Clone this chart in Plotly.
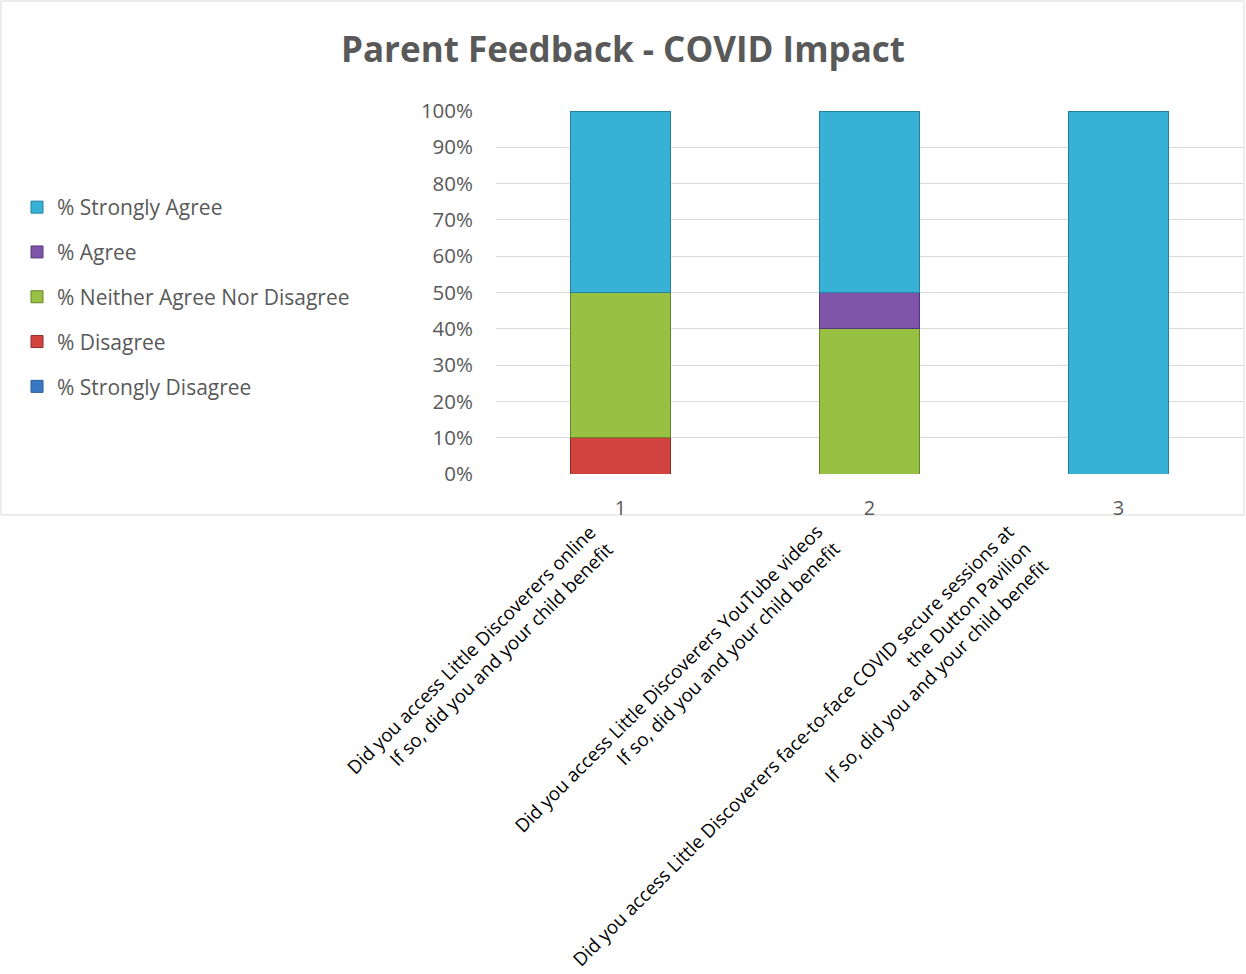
import plotly.graph_objects as go

categories = ["1", "2", "3"]
question_labels = [
    "Did you access Little Discoverers online<br>If so, did you and your child benefit",
    "Did you access Little Discoverers YouTube videos<br>If so, did you and your child benefit",
    "Did you access Little Discoverers face-to-face COVID secure sessions at<br>the Dutton Pavilion<br>If so, did you and your child benefit",
]
series_names = ["% Strongly Disagree", "% Disagree", "% Neither Agree Nor Disagree", "% Agree", "% Strongly Agree"]
strongly_disagree = [0, 0, 0]
disagree = [10, 0, 0]
neither = [40, 40, 0]
agree = [0, 10, 0]
strongly_agree = [50, 50, 100]
y_ticks = list(range(0, 101, 10))
y_tick_labels = [f"{v}%" for v in y_ticks]

series_values = [strongly_disagree, disagree, neither, agree, strongly_agree]
fill_colors = ["#3a78c4", "#d2423f", "#98c043", "#7e55a8", "#37b1d5"]
line_colors = ["#275a94", "#8e2a28", "#668529", "#55397a", "#26819d"]

W, H = 1246, 974
L, R, T, B = 496, 1243, 111, 474
pw, ph = R - L, B - T

def px_x(p):
    return (p - L) / pw

def px_y(p):
    return (B - p) / ph

FONT = "Open Sans"

fig = go.Figure()
n = len(series_names)
for i, (name, vals) in enumerate(zip(series_names, series_values)):
    fig.add_trace(go.Bar(
        x=categories,
        y=[v if v > 0 else None for v in vals],
        name=name,
        width=0.4,
        marker=dict(color=fill_colors[i], line=dict(color=line_colors[i], width=1)),
        legendgroup=name,
        legendrank=n - i,
    ))

fig.update_layout(
    width=W, height=H,
    margin=dict(l=L, r=W - R, t=T, b=H - B, autoexpand=False),
    barmode="stack",
    paper_bgcolor="white",
    plot_bgcolor="white",
    font=dict(family=FONT, color="#595959", size=18),
    title=dict(
        text="<b>Parent Feedback - COVID Impact</b>",
        x=0.5, xref="container", xanchor="center",
        y=1 - 50 / H, yref="container", yanchor="middle",
        font=dict(family=FONT, size=35, color="#595959"),
    ),
    showlegend=True,
    legend=dict(
        x=px_x(17), xanchor="left",
        y=px_y(187), yanchor="top",
        traceorder="grouped",
        tracegroupgap=14.5,
        font=dict(family=FONT, size=21, color="#595959"),
        bgcolor="rgba(0,0,0,0)",
    ),
    xaxis=dict(
        type="category",
        range=[-0.5, 2.5],
        showgrid=False, zeroline=False, showline=False,
        ticks="",
        ticklabelstandoff=20,
        tickfont=dict(family=FONT, size=20, color="#595959"),
    ),
    yaxis=dict(
        range=[0, 100],
        tickvals=y_ticks,
        ticktext=y_tick_labels,
        showgrid=True, gridcolor="#d9d9d9", gridwidth=1,
        zeroline=False, showline=False,
        ticks="",
        ticklabelstandoff=22,
        tickfont=dict(family=FONT, size=20.5, color="#595959"),
    ),
)

# chart frame
fig.add_shape(type="rect", xref="paper", yref="paper",
              x0=px_x(1), x1=px_x(1244), y0=px_y(515), y1=px_y(1),
              line=dict(color="#d9d9d9", width=1), fillcolor="rgba(0,0,0,0)", layer="below")

x_shifts = [0, -22, -62]
for idx, (lab, xs) in enumerate(zip(question_labels, x_shifts)):
    fig.add_annotation(
        x=idx, xref="x", y=px_y(516), yref="paper",
        text=lab, showarrow=False, textangle=-45,
        xanchor="right", yanchor="top", align="right",
        xshift=xs,
        font=dict(family=FONT, size=18.7, color="#000000"),
    )

fig.write_html("out.html", config={"displayModeBar": False},
               post_script="document.body.style.margin='0px';")
